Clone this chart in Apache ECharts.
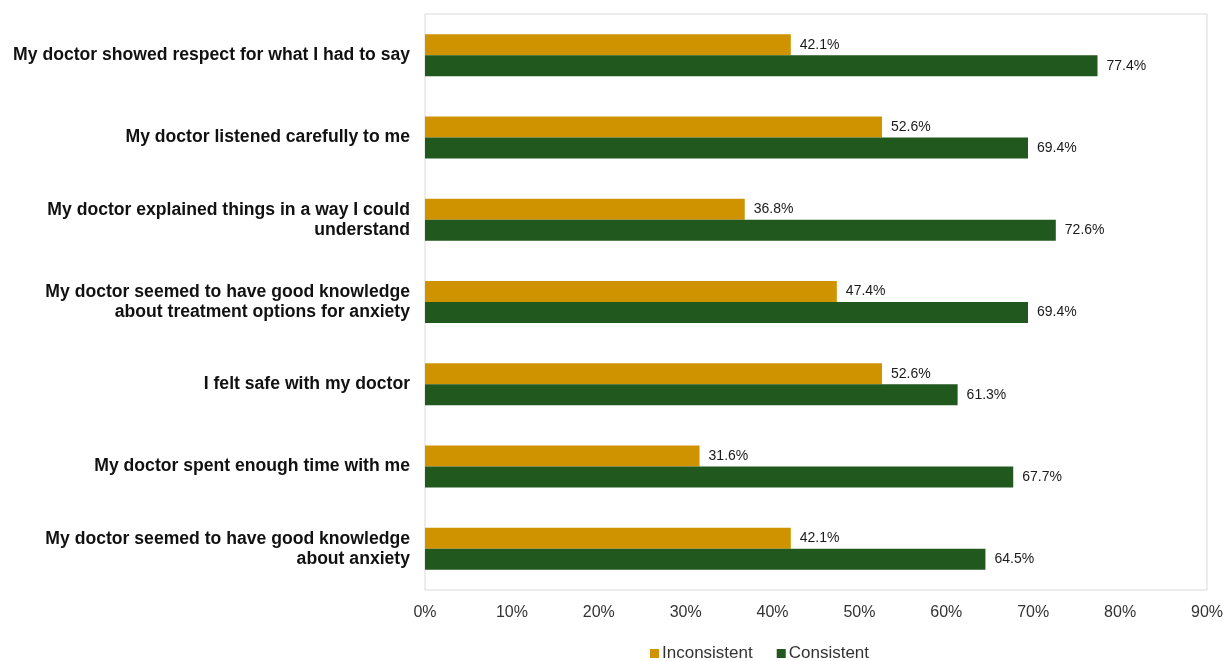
<!DOCTYPE html>
<html>
<head>
<meta charset="utf-8">
<script src="https://cdn.jsdelivr.net/npm/echarts@6/dist/echarts.min.js"></script>
<style>
  html, body { margin: 0; padding: 0; background: #fff; }
  #chart { width: 1226px; height: 661px; }
</style>
</head>
<body>
<div id="chart"></div>
<script>
// Datos de la gráfica
const categories = [
  'My doctor showed respect for what I had to say',
  'My doctor listened carefully to me',
  'My doctor explained things in a way I could\nunderstand',
  'My doctor seemed to have good knowledge\nabout treatment options for anxiety',
  'I felt safe with my doctor',
  'My doctor spent enough time with me',
  'My doctor seemed to have good knowledge\nabout anxiety'
];
const inconsistent = [42.1, 52.6, 36.8, 47.4, 52.6, 31.6, 42.1];
const consistent = [77.4, 69.4, 72.6, 69.4, 61.3, 67.7, 64.5];
const axisTicks = [0, 10, 20, 30, 40, 50, 60, 70, 80, 90];

const font = '"Liberation Sans", Arial, sans-serif';
const chart = echarts.init(document.getElementById('chart'));

const labelStyle = {
  show: true,
  position: 'right',
  distance: 9,
  color: '#1a1a1a',
  fontSize: 14,
  fontFamily: font,
  formatter: p => p.value.toFixed(1) + '%'
};

chart.setOption({
  animation: false,
  grid: {
    left: 425, right: 19, top: 14, bottom: 71,
    show: true, borderColor: '#d9d9d9', borderWidth: 1
  },
  legend: {
    bottom: -6,
    left: 645,
    itemWidth: 9,
    itemHeight: 9,
    itemGap: 24,
    icon: 'rect',
    textStyle: { fontSize: 17, color: '#333', fontFamily: font, padding: [0, 0, 0, -2] },
    data: ['Inconsistent', 'Consistent']
  },
  xAxis: {
    type: 'value',
    min: axisTicks[0],
    max: axisTicks[axisTicks.length - 1],
    interval: 10,
    axisLine: { show: false },
    axisTick: { show: false },
    splitLine: { show: false },
    axisLabel: {
      margin: 15,
      fontSize: 16,
      color: '#333',
      fontFamily: font,
      formatter: v => v + '%'
    }
  },
  yAxis: {
    type: 'category',
    inverse: true,
    data: categories,
    axisLine: { show: false },
    axisTick: { show: false },
    axisLabel: {
      margin: 15,
      fontSize: 17.6,
      fontWeight: 'bold',
      color: '#111',
      fontFamily: font,
      lineHeight: 20,
      padding: [3, 0, 0, 0],
      align: 'right'
    }
  },
  series: [
    {
      name: 'Inconsistent',
      type: 'bar',
      data: inconsistent,
      barWidth: 21,
      barGap: '0%',
      itemStyle: { color: '#D09300' },
      label: labelStyle
    },
    {
      name: 'Consistent',
      type: 'bar',
      data: consistent,
      barWidth: 21,
      barGap: '0%',
      itemStyle: { color: '#21581D' },
      label: labelStyle
    }
  ]
});
</script>
</body>
</html>
